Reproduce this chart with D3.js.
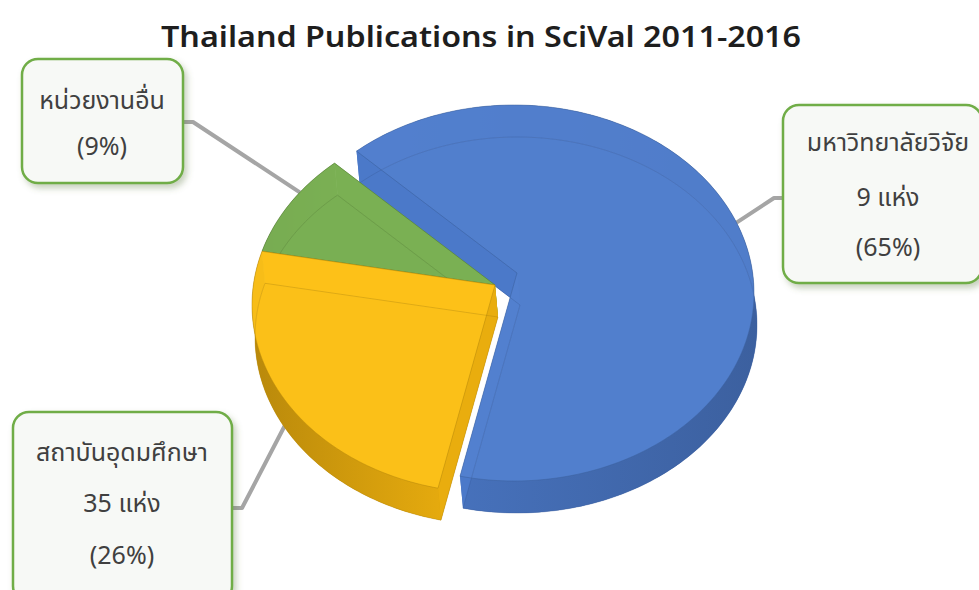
<!DOCTYPE html>
<html>
<head>
<meta charset="utf-8">
<script src="https://cdn.jsdelivr.net/npm/d3@7"></script>
<style>
  html, body { margin: 0; padding: 0; background: #ffffff; }
</style>
</head>
<body>
<div id="chart"></div>
<script>
// Thailand publications in SciVal 2011-2016, share by institution group.

const categories        = ["มหาวิทยาลัยวิจัย", "สถาบันอุดมศึกษา", "หน่วยงานอื่น"];
const institutionCounts = ["9 แห่ง", "35 แห่ง", ""];
const shares            = [65, 26, 9];
const percentLabels     = ["(65%)", "(26%)", "(9%)"];

const sliceColors = ["#5381cf", "#ffc41a", "#7db356"];
const wallColors  = ["#4671bb", "#d9a10d", "#5f9139"];
// which side of each wall gets the shadow (0 = left, 1 = right)
const wallShadeSide = [1, 0, 0];

const width  = 979;
const height = 590;

// pie geometry: tilted disc drawn as an ellipse, apex a little above its middle
const center       = [492, 305];
const apex         = [495, 285];
const rx           = 240;
const ry           = 188;
const depth        = [3, 32];
const startAngle   = -41 * Math.PI / 180;
const explodeShift = [22, -12];   // only the big slice is pulled out

const fontThai = "'Noto Sans Thai', 'Noto Sans', 'DejaVu Sans', sans-serif";

const svg = d3.select("#chart")
  .append("svg")
  .attr("width",  width)
  .attr("height", height)
  .style("display", "block");

const defs = svg.append("defs");

const shadow = defs.append("filter")
  .attr("id", "boxShadow")
  .attr("x", "-20%").attr("y", "-20%")
  .attr("width", "150%").attr("height", "150%");
shadow.append("feDropShadow")
  .attr("dx", 3).attr("dy", 4)
  .attr("stdDeviation", 3)
  .attr("flood-color", "#5d7a45")
  .attr("flood-opacity", 0.35);

wallColors.forEach((c, i) => {
  const dark  = d3.color(c).darker(0.45);
  const light = d3.color(c).brighter(0.15);
  const g = defs.append("linearGradient")
    .attr("id", "wall" + i)
    .attr("x1", "0%").attr("y1", "0%")
    .attr("x2", "100%").attr("y2", "0%");
  g.append("stop").attr("offset", "0%").attr("stop-color", wallShadeSide[i] === 0 ? dark : light);
  g.append("stop").attr("offset", "100%").attr("stop-color", wallShadeSide[i] === 0 ? light : dark);
});

// title
svg.append("text")
  .attr("x", 481)
  .attr("y", 47)
  .attr("text-anchor", "middle")
  .attr("fill", "#1e1e1e")
  .attr("font-family", "'Noto Sans', 'Open Sans', sans-serif")
  .attr("font-size", "29px")
  .attr("font-weight", "600")
  .attr("textLength", 640)
  .attr("lengthAdjust", "spacingAndGlyphs")
  .text("Thailand Publications in SciVal 2011-2016");

const pie = d3.pie()
  .sort(null)
  .startAngle(startAngle)
  .endAngle(startAngle + 2 * Math.PI);

const arcs = pie(shares);

function rim(angle, shift, down) {
  return [
    center[0] + rx * Math.sin(angle) + shift[0] + down[0],
    center[1] - ry * Math.cos(angle) + shift[1] + down[1],
  ];
}

function arcPoints(a0, a1, shift, down) {
  const n = Math.max(2, Math.ceil((a1 - a0) / 0.02));
  return d3.range(n + 1).map(k => rim(a0 + (a1 - a0) * k / n, shift, down));
}

const line = d3.line();
const closed = pts => line(pts) + "Z";

const pieLayer = svg.append("g");

// back to front: big slice, small slice, middle slice
[0, 2, 1].forEach(i => {
  const a     = arcs[i];
  const shift = i === 0 ? explodeShift : [0, 0];
  const none  = [0, 0];
  const apexTop = [apex[0] + shift[0], apex[1] + shift[1]];
  const apexBot = [apexTop[0] + depth[0], apexTop[1] + depth[1]];

  const topRim = arcPoints(a.startAngle, a.endAngle, shift, none);
  const botRim = arcPoints(a.startAngle, a.endAngle, shift, depth);

  const g = pieLayer.append("g");

  // bottom face
  g.append("path")
    .attr("d", closed([apexBot, ...botRim]))
    .attr("fill", wallColors[i]);

  // outer wall
  g.append("path")
    .attr("d", closed([...topRim, ...botRim.slice().reverse()]))
    .attr("fill", `url(#wall${i})`);

  // the two cut faces
  [a.startAngle, a.endAngle].forEach(ang => {
    g.append("path")
      .attr("d", closed([apexTop, rim(ang, shift, none), rim(ang, shift, depth), apexBot]))
      .attr("fill", d3.color(wallColors[i]).brighter(0.2));
  });

  // top face
  g.append("path")
    .attr("d", closed([apexTop, ...topRim]))
    .attr("fill", sliceColors[i])
    .attr("fill-opacity", 0.88);

  // see-through edges
  g.append("path")
    .attr("d", closed([apexBot, ...botRim]))
    .attr("fill", "none")
    .attr("stroke", d3.color(wallColors[i]).darker(0.6))
    .attr("stroke-opacity", 0.4)
    .attr("stroke-width", 0.9);

  g.append("path")
    .attr("d", closed([apexTop, ...topRim]))
    .attr("fill", "none")
    .attr("stroke", d3.color(wallColors[i]).darker(0.5))
    .attr("stroke-opacity", 0.55)
    .attr("stroke-width", 0.9);
});

// label boxes with leader lines
const boxes = [
  { x: 783, y: 105, w: 199, h: 178, cx: 888, lineY: [142, 197, 247], elbowY: 198, side: "left",  nudge: -8 },
  { x: 13,  y: 412, w: 219, h: 190, cx: 122, lineY: [452, 503, 555], elbowY: 508, side: "right", nudge: 0 },
  { x: 22,  y: 59,  w: 161, h: 124, cx: 102, lineY: [100, 146],      elbowY: 122, side: "right", nudge: 4 },
];

const leaderLayer = svg.insert("g", "g");

boxes.forEach((b, i) => {
  const a     = arcs[i];
  const mid   = (a.startAngle + a.endAngle) / 2 + b.nudge * Math.PI / 180;
  const shift = i === 0 ? explodeShift : [0, 0];
  const down  = Math.cos(mid) < 0 ? [depth[0] * 0.7, depth[1] * 0.7] : [0, 0];
  const anchor = rim(mid, shift, down);

  const edgeX  = b.side === "left" ? b.x : b.x + b.w;
  const elbowX = b.side === "left" ? edgeX - 9 : edgeX + 10;

  leaderLayer.append("path")
    .attr("d", line([[edgeX, b.elbowY], [elbowX, b.elbowY], anchor]))
    .attr("fill", "none")
    .attr("stroke", "#a5a5a5")
    .attr("stroke-width", 4)
    .attr("stroke-linejoin", "round");

  svg.append("rect")
    .attr("x", b.x)
    .attr("y", b.y)
    .attr("width", b.w)
    .attr("height", b.h)
    .attr("rx", 16)
    .attr("fill", "#f7f9f6")
    .attr("stroke", "#70ad47")
    .attr("stroke-width", 2.5)
    .attr("filter", "url(#boxShadow)");

  const lines = [categories[i], institutionCounts[i], percentLabels[i]].filter(t => t !== "");
  lines.forEach((t, k) => {
    svg.append("text")
      .attr("x", b.cx)
      .attr("y", b.lineY[k])
      .attr("dy", "0.35em")
      .attr("text-anchor", "middle")
      .attr("fill", "#404040")
      .attr("font-family", fontThai)
      .attr("font-size", "25px")
      .text(t);
  });
});
</script>
</body>
</html>
